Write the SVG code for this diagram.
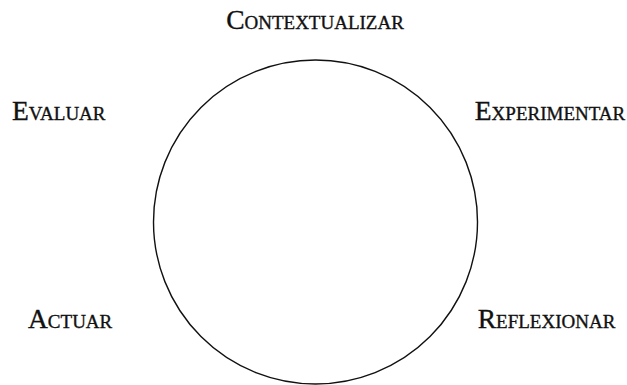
<svg xmlns="http://www.w3.org/2000/svg" width="627" height="385" viewBox="0 0 627 385">
<style>
.lbl{font-family:"Liberation Serif","Times New Roman",serif;font-size:27.5px;font-variant:small-caps;fill:#111;stroke:#111;stroke-width:0.35}
.ring{fill:none;stroke:#111;stroke-width:1.4}
</style>
<rect width="627" height="385" fill="#fff"/>
<g id="connectors">
<circle class="ring" cx="315.5" cy="222" r="162"/>
</g>
<g id="contextualizar"><text class="lbl" x="315" y="29" text-anchor="middle">Contextualizar</text></g>
<g id="evaluar"><text class="lbl" x="12" y="120">Evaluar</text></g>
<g id="experimentar"><text class="lbl" x="550" y="120" text-anchor="middle">Experimentar</text></g>
<g id="actuar"><text class="lbl" x="28" y="328">Actuar</text></g>
<g id="reflexionar"><text class="lbl" x="546.5" y="328" text-anchor="middle">Reflexionar</text></g>
</svg>
